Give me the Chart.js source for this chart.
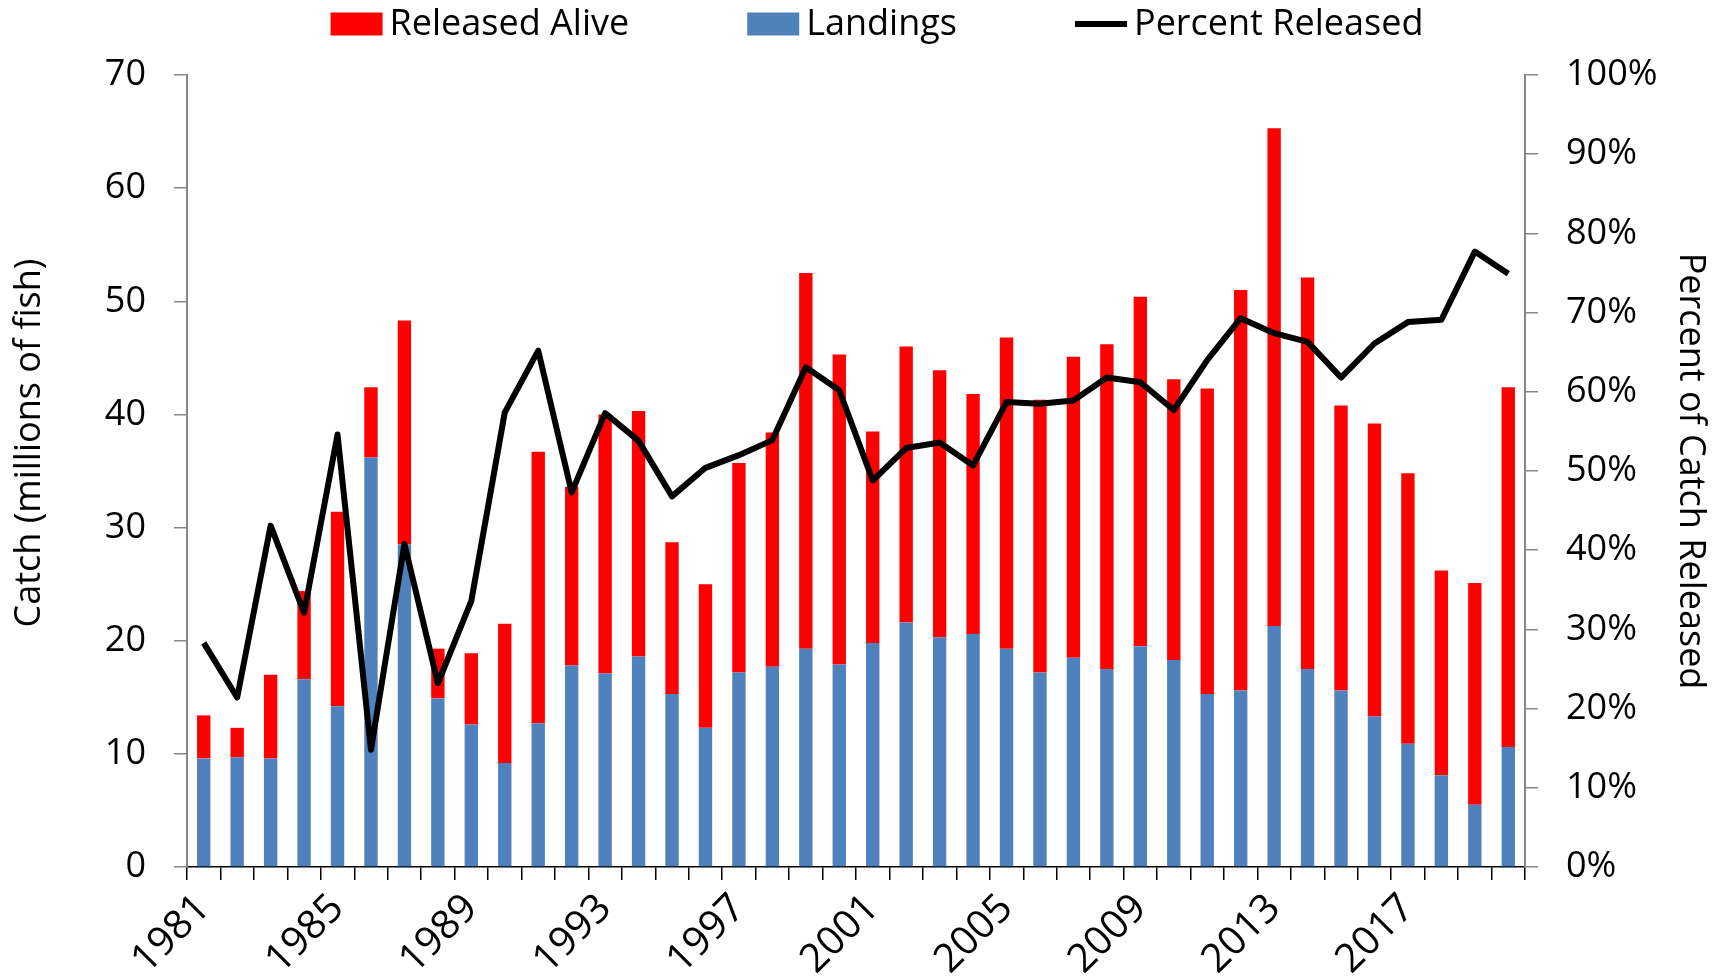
<!DOCTYPE html>
<html>
<head>
<meta charset="utf-8">
<title>Catch, Landings and Percent Released</title>
<script src="https://cdn.jsdelivr.net/npm/chart.js@4.4.1/dist/chart.umd.min.js"></script>
<style>
  html, body { margin: 0; padding: 0; background: #fff; }
  #chart { display: block; }
</style>
</head>
<body>
<canvas id="chart" width="1725" height="980"></canvas>
<script>
"use strict";

// ---- data (millions of fish / percent) ----
var years = [
    '1981', '1982', '1983', '1984', '1985', '1986', '1987', '1988', '1989', '1990',
    '1991', '1992', '1993', '1994', '1995', '1996', '1997', '1998', '1999', '2000',
    '2001', '2002', '2003', '2004', '2005', '2006', '2007', '2008', '2009', '2010',
    '2011', '2012', '2013', '2014', '2015', '2016', '2017', '2018', '2019', '2020'
];
var landings = [
    9.6, 9.7, 9.6, 16.6, 14.2, 36.2, 28.5, 14.9, 12.6, 9.2,
    12.7, 17.8, 17.1, 18.6, 15.3, 12.3, 17.2, 17.7, 19.3, 17.9,
    19.8, 21.6, 20.3, 20.6, 19.3, 17.2, 18.5, 17.5, 19.5, 18.3,
    15.3, 15.6, 21.3, 17.5, 15.6, 13.3, 10.9, 8.1, 5.5, 10.6
];
var releasedAlive = [
    3.8, 2.6, 7.4, 7.8, 17.2, 6.2, 19.8, 4.4, 6.3, 12.3,
    24.0, 15.8, 22.9, 21.7, 13.4, 12.7, 18.5, 20.7, 33.2, 27.4,
    18.7, 24.4, 23.6, 21.2, 27.5, 24.1, 26.6, 28.7, 30.9, 24.8,
    27.0, 35.4, 44.0, 34.6, 25.2, 25.9, 23.9, 18.1, 19.6, 31.8
];
var percentReleased = [
    28.3, 21.4, 43.1, 32.1, 54.6, 14.8, 40.8, 23.2, 33.6, 57.4,
    65.2, 47.3, 57.3, 53.8, 46.8, 50.4, 52.0, 53.9, 63.1, 60.2,
    48.8, 52.9, 53.6, 50.7, 58.7, 58.5, 58.9, 61.8, 61.2, 57.7,
    64.0, 69.3, 67.4, 66.3, 61.8, 66.1, 68.8, 69.1, 77.7, 74.9
];

var FONT = "'Open Sans', 'DejaVu Sans', sans-serif";
var AXIS_GRAY = '#868686';
var RED = '#ff0000';
var BLUE = '#4f81bd';

// legend + left axis title drawn on the canvas, Excel style
var extras = {
    id: 'extras',
    afterDraw: function (chart) {
        var ctx = chart.ctx;
        var items = [
            {text: 'Released Alive', kind: 'box', color: RED},
            {text: 'Landings', kind: 'box', color: BLUE},
            {text: 'Percent Released', kind: 'line', color: '#000'}
        ];
        var keyW = 52, gap = 7, spacing = 118, cy = 24;
        ctx.save();
        ctx.font = '36px ' + FONT;
        ctx.textBaseline = 'middle';
        var total = 0;
        items.forEach(function (it, i) {
            it.w = ctx.measureText(it.text).width;
            total += keyW + gap + it.w + (i ? spacing : 0);
        });
        var x = 877 - total / 2;
        items.forEach(function (it) {
            ctx.fillStyle = it.color;
            if (it.kind === 'box') {
                ctx.fillRect(x, cy - 11.5, keyW, 23);
            } else {
                ctx.fillRect(x, cy - 3, keyW, 6);
            }
            ctx.fillStyle = '#000';
            ctx.fillText(it.text, x + keyW + gap, cy + 1);
            x += keyW + gap + it.w + spacing;
        });

        // y title sits a bit above the middle of the axis in the original
        var area = chart.chartArea;
        ctx.translate(30, (area.top + area.bottom) / 2 - 28);
        ctx.rotate(-Math.PI / 2);
        ctx.textAlign = 'center';
        ctx.fillText('Catch (millions of fish)', 0, 0);
        ctx.restore();
    }
};

var ctx = document.getElementById('chart').getContext('2d');
new Chart(ctx, {
    type: 'bar',
    data: {
        labels: years,
        datasets: [{
            type: 'line',
            label: 'Percent Released',
            data: percentReleased,
            yAxisID: 'y1',
            borderColor: '#000',
            borderWidth: 6,
            borderJoinStyle: 'round',
            pointRadius: 0,
            tension: 0,
            order: 0,
        }, {
            label: 'Landings',
            data: landings,
            backgroundColor: BLUE,
            yAxisID: 'y',
            order: 1,
        }, {
            label: 'Released Alive',
            data: releasedAlive,
            backgroundColor: RED,
            yAxisID: 'y',
            order: 1,
        }]
    },
    options: {
        responsive: false,
        animation: false,
        devicePixelRatio: 1,
        layout: {padding: {top: 75, left: 0, right: 0, bottom: 0}},
        datasets: {
            bar: {categoryPercentage: 1.0, barPercentage: 0.4}
        },
        plugins: {
            legend: {display: false},
            tooltip: {enabled: false},
        },
        scales: {
            x: {
                stacked: true,
                offset: true,
                grid: {
                    offset: true,
                    drawOnChartArea: false,
                    drawTicks: true,
                    tickLength: 13,
                    color: '#000',
                    lineWidth: 1.5,
                },
                border: {color: '#000', width: 1.5},
                ticks: {
                    autoSkip: false,
                    maxRotation: 45,
                    minRotation: 45,
                    padding: 5,
                    color: '#000',
                    font: {family: FONT, size: 40},
                    callback: function (value, index) {
                        return index % 4 === 0 ? this.getLabelForValue(value) : '';
                    }
                },
                afterFit: function (scale) { scale.height = 113; }
            },
            y: {
                position: 'left',
                stacked: true,
                min: 0,
                max: 70,
                ticks: {
                    stepSize: 10,
                    padding: 28,
                    color: '#000',
                    font: {family: FONT, size: 36}
                },
                grid: {
                    drawOnChartArea: false,
                    tickLength: 13,
                    color: AXIS_GRAY,
                    lineWidth: 1.5,
                },
                border: {color: AXIS_GRAY, width: 2},
                afterFit: function (scale) { scale.width = 187; }
            },
            y1: {
                position: 'right',
                min: 0,
                max: 100,
                ticks: {
                    stepSize: 10,
                    padding: 28,
                    color: '#000',
                    font: {family: FONT, size: 36},
                    callback: function (v) { return v + '%'; }
                },
                grid: {
                    drawOnChartArea: false,
                    tickLength: 13,
                    color: AXIS_GRAY,
                    lineWidth: 1.5,
                },
                border: {color: AXIS_GRAY, width: 2},
                title: {
                    display: true,
                    text: 'Percent of Catch Released',
                    color: '#000',
                    font: {family: FONT, size: 36},
                    padding: {top: 13, bottom: 0}
                },
                afterFit: function (scale) { scale.width = 200; }
            }
        }
    },
    plugins: [extras]
});
</script>
</body>
</html>
